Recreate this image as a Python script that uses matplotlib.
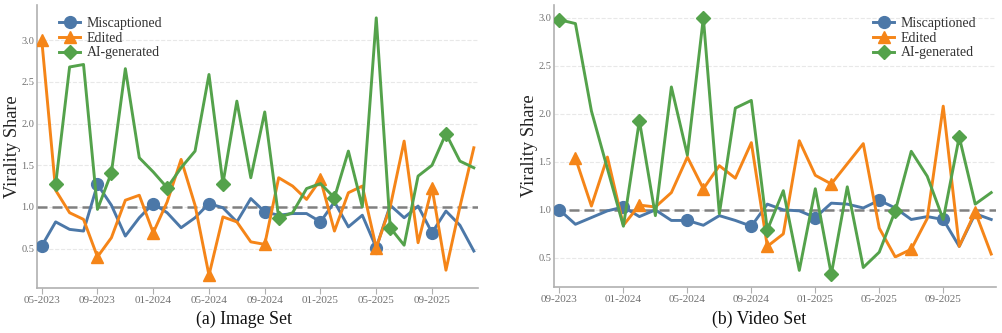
import numpy as np
import matplotlib
matplotlib.use("Agg")
import matplotlib.pyplot as plt

plt.rcParams['font.family'] = ['Liberation Serif', 'DejaVu Serif']

# image set, monthly 05-2023 .. 12-2025
img_ticks = ['05-2023', '09-2023', '01-2024', '05-2024', '09-2024', '01-2025', '05-2025', '09-2025']
img_misc = [0.53, 0.82, 0.73, 0.71, 1.27, 1.02, 0.65, 0.87, 1.04, 0.93, 0.75, 0.87, 1.04, 0.99, 0.82, 1.10,
            0.94, 0.90, 0.92, 0.92, 0.82, 1.06, 0.76, 0.90, 0.51, 1.02, 0.87, 1.01, 0.69, 0.95, 0.78, 0.47]
img_edit = [3.01, 1.20, 0.93, 0.85, 0.40, 0.63, 1.08, 1.14, 0.69, 1.06, 1.57, 1.02, 0.18, 0.88, 0.82, 0.58,
            0.55, 1.35, 1.25, 1.09, 1.33, 0.71, 1.17, 1.25, 0.51, 1.00, 1.79, 0.57, 1.23, 0.24, 1.00, 1.71]
img_ai = [None, 1.27, 2.68, 2.71, 0.97, 1.41, 2.66, 1.59, 1.42, 1.23, 1.47, 1.67, 2.59, 1.28, 2.27, 1.35,
          2.14, 0.87, 0.93, 1.22, 1.28, 1.11, 1.67, 1.00, 3.27, 0.75, 0.54, 1.37, 1.50, 1.88, 1.55, 1.47]

# video set, monthly 09-2023 .. 12-2025
vid_ticks = ['09-2023', '01-2024', '05-2024', '09-2024', '01-2025', '05-2025', '09-2025']
vid_misc = [1.00, 0.85, 0.92, 0.99, 1.03, 0.93, 1.00, 0.89, 0.89, 0.84, 0.94, 0.89, 0.83, 1.06,
            1.00, 0.99, 0.92, 1.07, 1.06, 1.02, 1.10, 1.02, 0.90, 0.93, 0.90, 0.62, 0.96, 0.90]
vid_edit = [None, 1.54, 1.04, 1.55, 0.84, 1.05, 1.03, 1.18, 1.55, 1.22, 1.46, 1.33, 1.70, 0.62,
            0.75, 1.72, 1.36, 1.27, None, 1.69, 0.81, 0.51, 0.59, 0.91, 2.08, 0.62, 0.98, 0.54]
vid_ai = [2.98, 2.94, 2.03, None, 0.83, 1.93, 0.94, 2.28, 1.57, 3.00, 0.96, 2.06, 2.14, 0.79,
          1.20, 0.37, 1.22, 0.33, 1.24, 0.40, 0.56, 0.99, 1.61, 1.35, 0.90, 1.76, 1.06, 1.18]

names = ['Miscaptioned', 'Edited', 'AI-generated']
colors = ['#4c78a8', '#f58518', '#54a24b']
markers = ['o', '^', 'D']
msizes = [8.5, 8.5, 7.5]


def panel(ax, series, ticks, legend_loc, legend_anchor):
    n = len(series[0])
    for vals, name, c, m, ms in zip(series, names, colors, markers, msizes):
        x = [i for i, v in enumerate(vals) if v is not None]
        y = [v for v in vals if v is not None]
        ax.plot(x, y, color=c, lw=2.1, marker=m, ms=ms, markevery=4, label=name, zorder=3)
    ax.axhline(1.0, color='#808080', lw=1.8, dashes=(4, 2), zorder=2)
    ax.set_xlim(-0.33, n - 1 + 0.33)
    ax.set_xticks(np.arange(0, n, 4))
    ax.set_xticklabels(ticks)
    ax.set_yticks([0.5, 1.0, 1.5, 2.0, 2.5, 3.0])
    ax.yaxis.grid(True, color='#e8e8e8', ls='--', lw=0.8)
    ax.set_axisbelow(True)
    for s in ['top', 'right']:
        ax.spines[s].set_visible(False)
    for s in ['left', 'bottom']:
        ax.spines[s].set_color('#b0b0b0')
        ax.spines[s].set_linewidth(1.2)
    ax.tick_params(axis='x', colors='#b0b0b0', labelcolor='#707070', labelsize=8, length=4, pad=2)
    ax.tick_params(axis='y', colors='#b0b0b0', labelcolor='#707070', labelsize=7.5, length=0, pad=2)
    ax.set_ylabel('Virality Share', fontsize=13.2, color='#222222')
    ax.yaxis.set_label_coords(-0.037, 0.5)
    leg = ax.legend(loc=legend_loc, bbox_to_anchor=legend_anchor, frameon=False, fontsize=10,
                    handlelength=1.5, handletextpad=0.5, labelspacing=0.12, borderaxespad=0,
                    borderpad=0)
    for t in leg.get_texts():
        t.set_color('#333333')


fig = plt.figure(figsize=(10.03, 3.33), dpi=100)
ax1 = fig.add_axes([0.037, 0.135, 0.44, 0.85])
ax2 = fig.add_axes([0.5525, 0.138, 0.441, 0.847])

panel(ax1, [img_misc, img_edit, img_ai], img_ticks, 'upper left', (0.05, 0.957))
panel(ax2, [vid_misc, vid_edit, vid_ai], vid_ticks, 'upper right', (0.955, 0.957))

fig.text(0.243, 0.040, '(a) Image Set', ha='center', va='center', fontsize=12.8, color='#111111')
fig.text(0.757, 0.040, '(b) Video Set', ha='center', va='center', fontsize=12.8, color='#111111')

fig.savefig('out.png', dpi=100)
